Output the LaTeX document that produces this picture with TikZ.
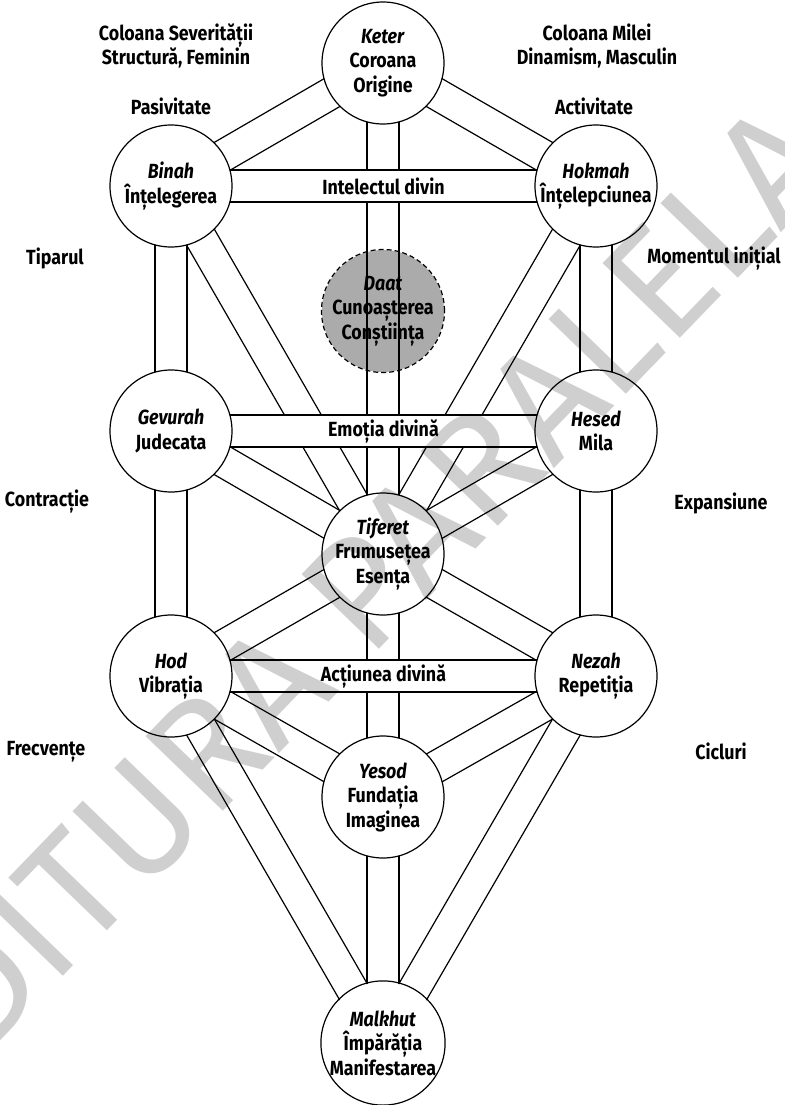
\documentclass[tikz,border=0pt]{standalone}
\usepackage{fontspec}
\setmainfont{Fira Sans}[FakeStretch=0.87]
\newfontfamily\wmfont{Fira Sans}
\usetikzlibrary{calc}
\pgfdeclarelayer{bottom}
\pgfdeclarelayer{back}
\pgfdeclarelayer{mid}
\pgfdeclarelayer{top}
\pgfsetlayers{bottom,back,mid,main,top}
\definecolor{daatgray}{gray}{0.67}
\tikzset{
  chanline/.style={line width=1.2pt, black},
  sefira/.style={circle, draw, line width=1.2pt, minimum size=122pt, inner sep=0pt,
    align=center, font=\fontsize{20.5}{24.5}\selectfont\bfseries},
  lbl/.style={align=center, inner sep=0pt, font=\fontsize{20.5}{24.5}\selectfont\bfseries},
  wm/.style={inner sep=0pt, text opacity=0.19}
}
\newcommand{\chan}[2]{%
  \path ($(#1.center)!58.9pt!(#2.center)$) coordinate (p1)
        ($(#2.center)!58.9pt!(#1.center)$) coordinate (p2);
  \draw[chanline] ($(p1)!16pt!90:(p2)$) -- ($(p2)!16pt!-90:(p1)$);
  \draw[chanline] ($(p1)!16pt!-90:(p2)$) -- ($(p2)!16pt!90:(p1)$);
}
\newcommand{\hchan}[3]{%
  \fill[white] ($(#1.center)+(58.9,-16)$) rectangle ($(#2.center)+(-58.9,16)$);
  \draw[chanline] ($(#1.center)+(58.9,-16)$) -- ($(#2.center)+(-58.9,-16)$);
  \draw[chanline] ($(#1.center)+(58.9,16)$) -- ($(#2.center)+(-58.9,16)$);
  \node[lbl] (#1-#2) at ($(#1.center)!0.5!(#2.center)$) {#3};
}
\begin{document}
\begin{tikzpicture}[x=1pt, y=-1pt]
\useasboundingbox (0,0) rectangle (784,1105);
% sefirot
\node[sefira] (keter)   at (383,63)   {\textit{Keter}\\Coroana\\Origine};
\node[sefira] (binah)   at (171,186)  {\textit{Binah}\\Înțelegerea};
\node[sefira] (hokmah)  at (596,186)  {\textit{Hokmah}\\Înțelepciunea};
\node[sefira, dash pattern=on 5pt off 3pt] (daat) at (383,311) {\textit{Daat}\\Cunoașterea\\Conștiința};
\node[sefira] (gevurah) at (171,431)  {\textit{Gevurah}\\Judecata};
\node[sefira] (hesed)   at (596,431)  {\textit{Hesed}\\Mila};
\node[sefira] (tiferet) at (383,554)  {\textit{Tiferet}\\Frumusețea\\Esența};
\node[sefira] (hod)     at (171,676)  {\textit{Hod}\\Vibrația};
\node[sefira] (nezah)   at (596,676)  {\textit{Nezah}\\Repetiția};
\node[sefira] (yesod)   at (383,797)  {\textit{Yesod}\\Fundația\\Imaginea};
\node[sefira] (malkhut) at (383,1043) {\textit{Malkhut}\\Împărăția\\Manifestarea};
% Daat fill
\begin{pgfonlayer}{bottom}
  \fill[daatgray] (daat.center) circle[radius=61pt];
\end{pgfonlayer}
% channels
\begin{pgfonlayer}{back}
  \chan{keter}{binah}
  \chan{keter}{hokmah}
  \chan{keter}{tiferet}
  \chan{binah}{gevurah}
  \chan{binah}{tiferet}
  \chan{hokmah}{hesed}
  \chan{hokmah}{tiferet}
  \chan{gevurah}{tiferet}
  \chan{gevurah}{hod}
  \chan{hesed}{tiferet}
  \chan{hesed}{nezah}
  \chan{tiferet}{hod}
  \chan{tiferet}{nezah}
  \chan{tiferet}{yesod}
  \chan{hod}{yesod}
  \chan{nezah}{yesod}
  \chan{hod}{malkhut}
  \chan{nezah}{malkhut}
  \chan{yesod}{malkhut}
\end{pgfonlayer}
\begin{pgfonlayer}{mid}
  \hchan{binah}{hokmah}{Intelectul divin}
  \hchan{gevurah}{hesed}{Emoția divină}
  \hchan{hod}{nezah}{Acțiunea divină}
\end{pgfonlayer}
% side labels
\node[lbl] (sev)  at (176,46)  {Coloana Severității\\Structură, Feminin};
\node[lbl] (mil)  at (597,46)  {Coloana Milei\\Dinamism, Masculin};
\node[lbl] (pas)  at (171,106) {Pasivitate};
\node[lbl] (act)  at (594,106) {Activitate};
\node[lbl] (tip)  at (55,258)  {Tiparul};
\node[lbl] (mom)  at (714,259) {Momentul inițial};
\node[lbl] (con)  at (47,502)  {Contracție};
\node[lbl] (exp)  at (721,503) {Expansiune};
\node[lbl] (fre)  at (46,752)  {Frecvențe};
\node[lbl] (cic)  at (721,751) {Cicluri};
% watermark
\begin{pgfonlayer}{top}
  \node[wm, rotate=46] (wmark) at (346,608) {\resizebox{1320pt}{!}{\wmfont EDITURA PARALELA}};
\end{pgfonlayer}
\end{tikzpicture}
\end{document}
